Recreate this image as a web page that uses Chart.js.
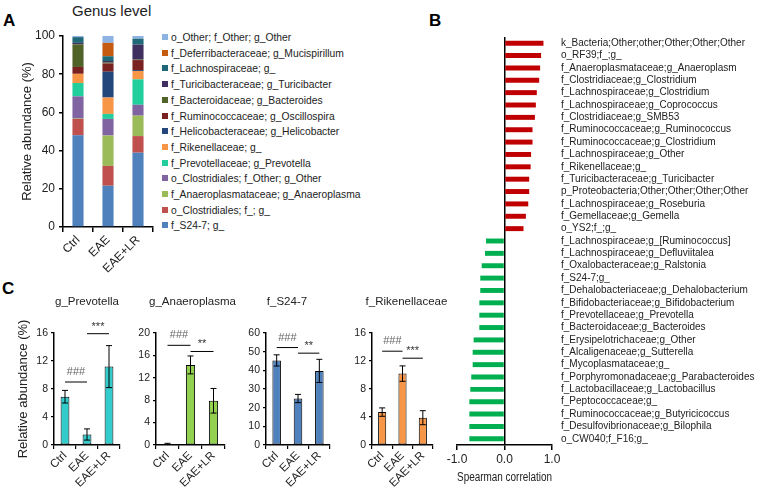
<!DOCTYPE html>
<html><head><meta charset="utf-8">
<script src="https://cdn.jsdelivr.net/npm/chart.js@4.4.1/dist/chart.umd.min.js"></script>
<style>
html,body{margin:0;padding:0;background:#fff;}
#root{position:relative;width:762px;height:494px;overflow:hidden;font-family:"Liberation Sans",Arial,sans-serif;color:#222;}
#root canvas{position:absolute;}
.lbl{position:absolute;white-space:nowrap;}
.panel{font-weight:bold;font-size:17px;color:#000;}
</style></head><body>
<div id="root">
 <div class="lbl panel" style="left:3px;top:11px">A</div>
 <div class="lbl panel" style="left:429px;top:11px">B</div>
 <div class="lbl panel" style="left:2px;top:279px">C</div>
 <div class="lbl" style="left:72px;top:2px;font-size:15px">Genus level</div>
 <div id="legendA"></div>
 <canvas id="chartA" width="165" height="280" style="left:0;top:0"></canvas>
 <canvas id="chartB" width="322" height="474" style="left:440px;top:20px"></canvas>
 <canvas id="c1" width="125" height="204" style="left:0;top:290px"></canvas>
 <canvas id="c2" width="115" height="204" style="left:125px;top:290px"></canvas>
 <canvas id="c3" width="100" height="204" style="left:235px;top:290px"></canvas>
 <canvas id="c4" width="112" height="204" style="left:340px;top:290px"></canvas>
</div>
<script>
// ---------------- DATA ----------------
const groups = ['Ctrl', 'EAE', 'EAE+LR'];

// Panel A: genus-level composition (bottom of stack first)
const genusTaxa = [
  'f_S24-7; g_',
  'o_Clostridiales; f_; g_',
  'f_Anaeroplasmataceae; g_Anaeroplasma',
  'o_Clostridiales; f_Other; g_Other',
  'f_Prevotellaceae; g_Prevotella',
  'f_Rikenellaceae; g_',
  'f_Helicobacteraceae; g_Helicobacter',
  'f_Ruminococcaceae; g_Oscillospira',
  'f_Bacteroidaceae; g_Bacteroides',
  'f_Turicibacteraceae; g_Turicibacter',
  'f_Lachnospiraceae; g_',
  'f_Deferribacteraceae; g_Mucispirillum',
  'o_Other; f_Other; g_Other'
];
const genusCtrl  = [48.0, 8.6, 0.2, 11.6, 7.0, 4.8, 0.0, 3.6, 11.8, 0.8, 3.0, 0.0, 0.6];
const genusEAE   = [21.6, 10.4, 15.9, 8.7, 2.6, 8.6, 13.5, 4.3, 0.5, 0.8, 2.5, 7.0, 3.6];
const genusEAELR = [38.9, 8.7, 10.7, 5.7, 13.3, 4.4, 0.5, 5.2, 0.3, 7.8, 3.1, 0.0, 1.4];
const genusColors = ['#4F81BD','#C0504D','#9BBB59','#8064A2','#22CF9C','#F79646','#23477A','#7A2222','#4F6228','#3F2F5F','#1F6877','#C55A11','#8DB3E2'];
const abundanceTicks = [0, 20, 40, 60, 80, 100];

// Panel B: Spearman correlation
const corrTaxa = [
  'k_Bacteria;Other;other;Other;Other;Other',
  'o_RF39;f_;g_',
  'f_Anaeroplasmataceae;g_Anaeroplasm',
  'f_Clostridiaceae;g_Clostridium',
  'f_Lachnospiraceae;g_Clostridium',
  'f_Lachnospiraceae;g_Coprococcus',
  'f_Clostridiaceae;g_SMB53',
  'f_Ruminococcaceae;g_Ruminococcus',
  'f_Ruminococcaceae;g_Clostridium',
  'f_Lachnospiraceae;g_Other',
  'f_Rikenellaceae;g_',
  'f_Turicibacteraceae;g_Turicibacter',
  'p_Proteobacteria;Other;Other;Other;Other',
  'f_Lachnospiraceae;g_Roseburia',
  'f_Gemellaceae;g_Gemella',
  'o_YS2;f_;g_',
  'f_Lachnospiraceae;g_[Ruminococcus]',
  'f_Lachnospiraceae;g_Defluviitalea',
  'f_Oxalobacteraceae;g_Ralstonia',
  'f_S24-7;g_',
  'f_Dehalobacteriaceae;g_Dehalobacterium',
  'f_Bifidobacteriaceae;g_Bifidobacterium',
  'f_Prevotellaceae;g_Prevotella',
  'f_Bacteroidaceae;g_Bacteroides',
  'f_Erysipelotrichaceae;g_Other',
  'f_Alcaligenaceae;g_Sutterella',
  'f_Mycoplasmataceae;g_',
  'f_Porphyromonadaceae;g_Parabacteroides',
  'f_Lactobacillaceae;g_Lactobacillus',
  'f_Peptococcaceae;g_',
  'f_Ruminococcaceae;g_Butyricicoccus',
  'f_Desulfovibrionaceae;g_Bilophila',
  'o_CW040;f_F16;g_'
];
const corrRho = [0.82, 0.77, 0.75, 0.73, 0.68, 0.66, 0.64, 0.59, 0.59, 0.56, 0.55, 0.52, 0.52, 0.50, 0.45, 0.40,
  -0.39, -0.41, -0.48, -0.51, -0.51, -0.53, -0.53, -0.53, -0.65, -0.67, -0.67, -0.70, -0.72, -0.74, -0.74, -0.74, -0.74];
const corrTicks = [-1, 0, 1];

// Panel C: mean +/- SEM
const prevotellaMean = [6.9, 1.5, 11.2];
const prevotellaSem  = [0.9, 0.8, 3.0];
const anaeroplasmaMean = [0.2, 14.3, 7.9];
const anaeroplasmaSem  = [0.1, 1.6, 2.2];
const s247Mean = [45.3, 24.9, 39.7];
const s247Sem  = [3.0, 2.2, 6.2];
const rikenMean = [4.7, 10.2, 3.9];
const rikenSem  = [0.6, 1.1, 1.0];
const prevotellaSig   = [{from:0, to:1, label:'###', at:9.0},  {from:1, to:2, label:'***', at:15.9}];
const anaeroplasmaSig = [{from:0, to:1, label:'###', at:17.8}, {from:1, to:2, label:'**',  at:16.7}];
const s247Sig         = [{from:0, to:1, label:'###', at:52.2}, {from:1, to:2, label:'**',  at:49.2}];
const rikenSig        = [{from:0, to:1, label:'###', at:13.4}, {from:1, to:2, label:'***', at:12.4}];

// ---------------- CHARTS ----------------
const FONT = '"Liberation Sans", Arial, sans-serif';
Chart.defaults.font.family = FONT;
Chart.defaults.color = '#222';
Chart.defaults.animation = false;
Chart.defaults.responsive = false;
Chart.defaults.maintainAspectRatio = false;
Chart.defaults.plugins.legend.display = false;
Chart.defaults.plugins.tooltip.enabled = false;

// Legend for panel A (top row = top of stack)
const legendA = document.getElementById('legendA');
for (let k = genusTaxa.length - 1, row = 0; k >= 0; k--, row++) {
  const item = document.createElement('div');
  item.className = 'lbl';
  item.style.cssText = 'left:162px;top:' + (31 + row * 15.7) + 'px;font-size:10.3px;line-height:14px;color:#222';
  const sw = document.createElement('span');
  sw.style.cssText = 'display:inline-block;width:6px;height:6px;margin-right:3px;vertical-align:1px;background:' + genusColors[k];
  item.appendChild(sw);
  item.appendChild(document.createTextNode(genusTaxa[k]));
  legendA.appendChild(item);
}

// Panel A
new Chart(document.getElementById('chartA'), {
  type: 'bar',
  data: {
    labels: groups,
    datasets: genusTaxa.map((t, i) => ({
      label: t,
      data: [genusCtrl[i], genusEAE[i], genusEAELR[i]],
      backgroundColor: genusColors[i],
      borderWidth: 0,
      barPercentage: 0.37,
      categoryPercentage: 1
    }))
  },
  options: {
    layout: {padding: {top: 36, right: 12, left: 0, bottom: 0}},
    scales: {
      x: {
        stacked: true,
        grid: {drawOnChartArea: false, offset: true, tickLength: 5, color: '#000', lineWidth: 1.5},
        border: {color: '#000', width: 1.5},
        ticks: {minRotation: 45, maxRotation: 45, autoSkip: false, font: {size: 12}, color: '#222', padding: 1},
        afterFit: s => { s.height = 53; }
      },
      y: {
        stacked: true, min: 0, max: 100,
        afterBuildTicks: s => { s.ticks = abundanceTicks.map(v => ({value: v})); },
        ticks: {font: {size: 12}, color: '#222', padding: 4},
        grid: {drawOnChartArea: false, tickLength: 4, color: '#000', lineWidth: 1.5},
        border: {color: '#000', width: 1.5},
        title: {display: true, text: 'Relative abundance (%)', font: {size: 13}, color: '#222', padding: {top: 20, bottom: 0}},
        afterFit: s => { s.width = 63; }
      }
    }
  }
});

// Panel B
new Chart(document.getElementById('chartB'), {
  type: 'bar',
  data: {
    labels: corrTaxa,
    datasets: [{
      data: corrRho,
      backgroundColor: corrRho.map(v => v >= 0 ? '#C00000' : '#00B050'),
      borderWidth: 0,
      barPercentage: 0.4,
      categoryPercentage: 1
    }]
  },
  options: {
    indexAxis: 'y',
    layout: {padding: {left: 17, top: 17, right: 0, bottom: 0}},
    scales: {
      x: {
        min: -1, max: 1,
        afterBuildTicks: s => { s.ticks = corrTicks.map(v => ({value: v})); },
        ticks: {font: {size: 12}, color: '#222', padding: 2, callback: v => Number(v).toFixed(1)},
        grid: {
          color: c => (c.tick && c.tick.value === 0) ? '#000' : 'rgba(0,0,0,0)',
          tickColor: '#000', lineWidth: 1.5, tickLength: 5
        },
        border: {color: '#000', width: 1.5},
        title: {display: true, text: 'Spearman correlation', font: {size: 12}, color: '#222', padding: {top: 0, bottom: 9}},
        afterFit: s => { s.height = 49; }
      },
      y: {
        position: 'right',
        grid: {display: false, drawTicks: false},
        border: {display: false},
        ticks: {font: {size: 10}, color: '#222', padding: 9, autoSkip: false},
        afterFit: s => { s.width = 210; }
      }
    }
  }
});

// Panel C
function errorPlugin(title, titleDx, sems, sigs) {
  return {
    id: 'errorBars',
    afterDatasetsDraw(chart) {
      const meta = chart.getDatasetMeta(0);
      const y = chart.scales.y;
      const vals = chart.data.datasets[0].data;
      const ctx = chart.ctx;
      const area = chart.chartArea;
      ctx.save();
      // panel title
      ctx.fillStyle = '#222';
      ctx.font = '11.5px ' + FONT;
      ctx.textAlign = 'center';
      ctx.textBaseline = 'middle';
      ctx.fillText(title, (area.left + area.right) / 2 + titleDx, 12);
      // error bars
      ctx.strokeStyle = '#000';
      ctx.lineWidth = 1;
      meta.data.forEach((bar, i) => {
        const x = bar.x;
        const yT = y.getPixelForValue(vals[i] + sems[i]);
        const yB = y.getPixelForValue(Math.max(0, vals[i] - sems[i]));
        const cap = 3;
        ctx.beginPath();
        ctx.moveTo(x, yT); ctx.lineTo(x, yB);
        ctx.moveTo(x - cap, yT); ctx.lineTo(x + cap, yT);
        ctx.moveTo(x - cap, yB); ctx.lineTo(x + cap, yB);
        ctx.stroke();
      });
      // significance marks
      sigs.forEach(s => {
        const x1 = meta.data[s.from].x, x2 = meta.data[s.to].x;
        const yy = y.getPixelForValue(s.at);
        ctx.beginPath();
        ctx.moveTo(x1, yy); ctx.lineTo(x2, yy);
        ctx.stroke();
        ctx.fillStyle = s.label === '###' ? '#666' : '#333';
        ctx.font = '11px ' + FONT;
        ctx.textAlign = 'center';
        ctx.textBaseline = 'alphabetic';
        ctx.fillText(s.label, (x1 + x2) / 2, yy - (s.label === '###' ? 7 : 4));
      });
      ctx.restore();
    }
  };
}

function smallChart(id, title, titleDx, means, sems, sigs, color, yMax, yStep, yWidth, padRight, withYTitle) {
  const yTicks = [];
  for (let v = 0; v <= yMax; v += yStep) yTicks.push(v);
  return new Chart(document.getElementById(id), {
    type: 'bar',
    data: {
      labels: groups,
      datasets: [{
        data: means,
        backgroundColor: color,
        borderColor: '#000',
        borderWidth: 1,
        borderSkipped: false,
        barPercentage: 0.4,
        categoryPercentage: 1
      }]
    },
    options: {
      layout: {padding: {top: 43, right: padRight, left: 0, bottom: 0}},
      scales: {
        x: {
          grid: {drawOnChartArea: false, offset: true, tickLength: 4, color: '#000', lineWidth: 1.2},
          border: {color: '#000', width: 1.5},
          ticks: {minRotation: 45, maxRotation: 45, autoSkip: false, font: {size: 11.5}, color: '#222', padding: 0},
          afterFit: s => { s.height = 49; }
        },
        y: {
          min: 0, max: yMax,
          afterBuildTicks: s => { s.ticks = yTicks.map(v => ({value: v})); },
          ticks: {font: {size: 10.5}, color: '#222', padding: 3},
          grid: {drawOnChartArea: false, tickLength: 3, color: '#000', lineWidth: 1.2},
          border: {color: '#000', width: 1.5},
          title: {display: withYTitle, text: 'Relative abundance (%)', font: {size: 13}, color: '#222', padding: {top: 16, bottom: 0}},
          afterFit: s => { s.width = yWidth; }
        }
      }
    },
    plugins: [errorPlugin(title, titleDx, sems, sigs)]
  });
}

smallChart('c1', 'g_Prevotella',    0,   prevotellaMean,   prevotellaSem,   prevotellaSig,   '#33CCCC', 16, 4,  54, 5,  true);
smallChart('c2', 'g_Anaeroplasma',  2,   anaeroplasmaMean, anaeroplasmaSem, anaeroplasmaSig, '#92D050', 20, 4,  31, 15, false);
smallChart('c3', 'f_S24-7',         -11, s247Mean,         s247Sem,         s247Sig,         '#4F81BD', 60, 10, 31, 5,  false);
smallChart('c4', 'f_Rikenellaceae', 4,   rikenMean,        rikenSem,        rikenSig,        '#F79646', 16, 4,  32, 19, false);
</script>
</body></html>
